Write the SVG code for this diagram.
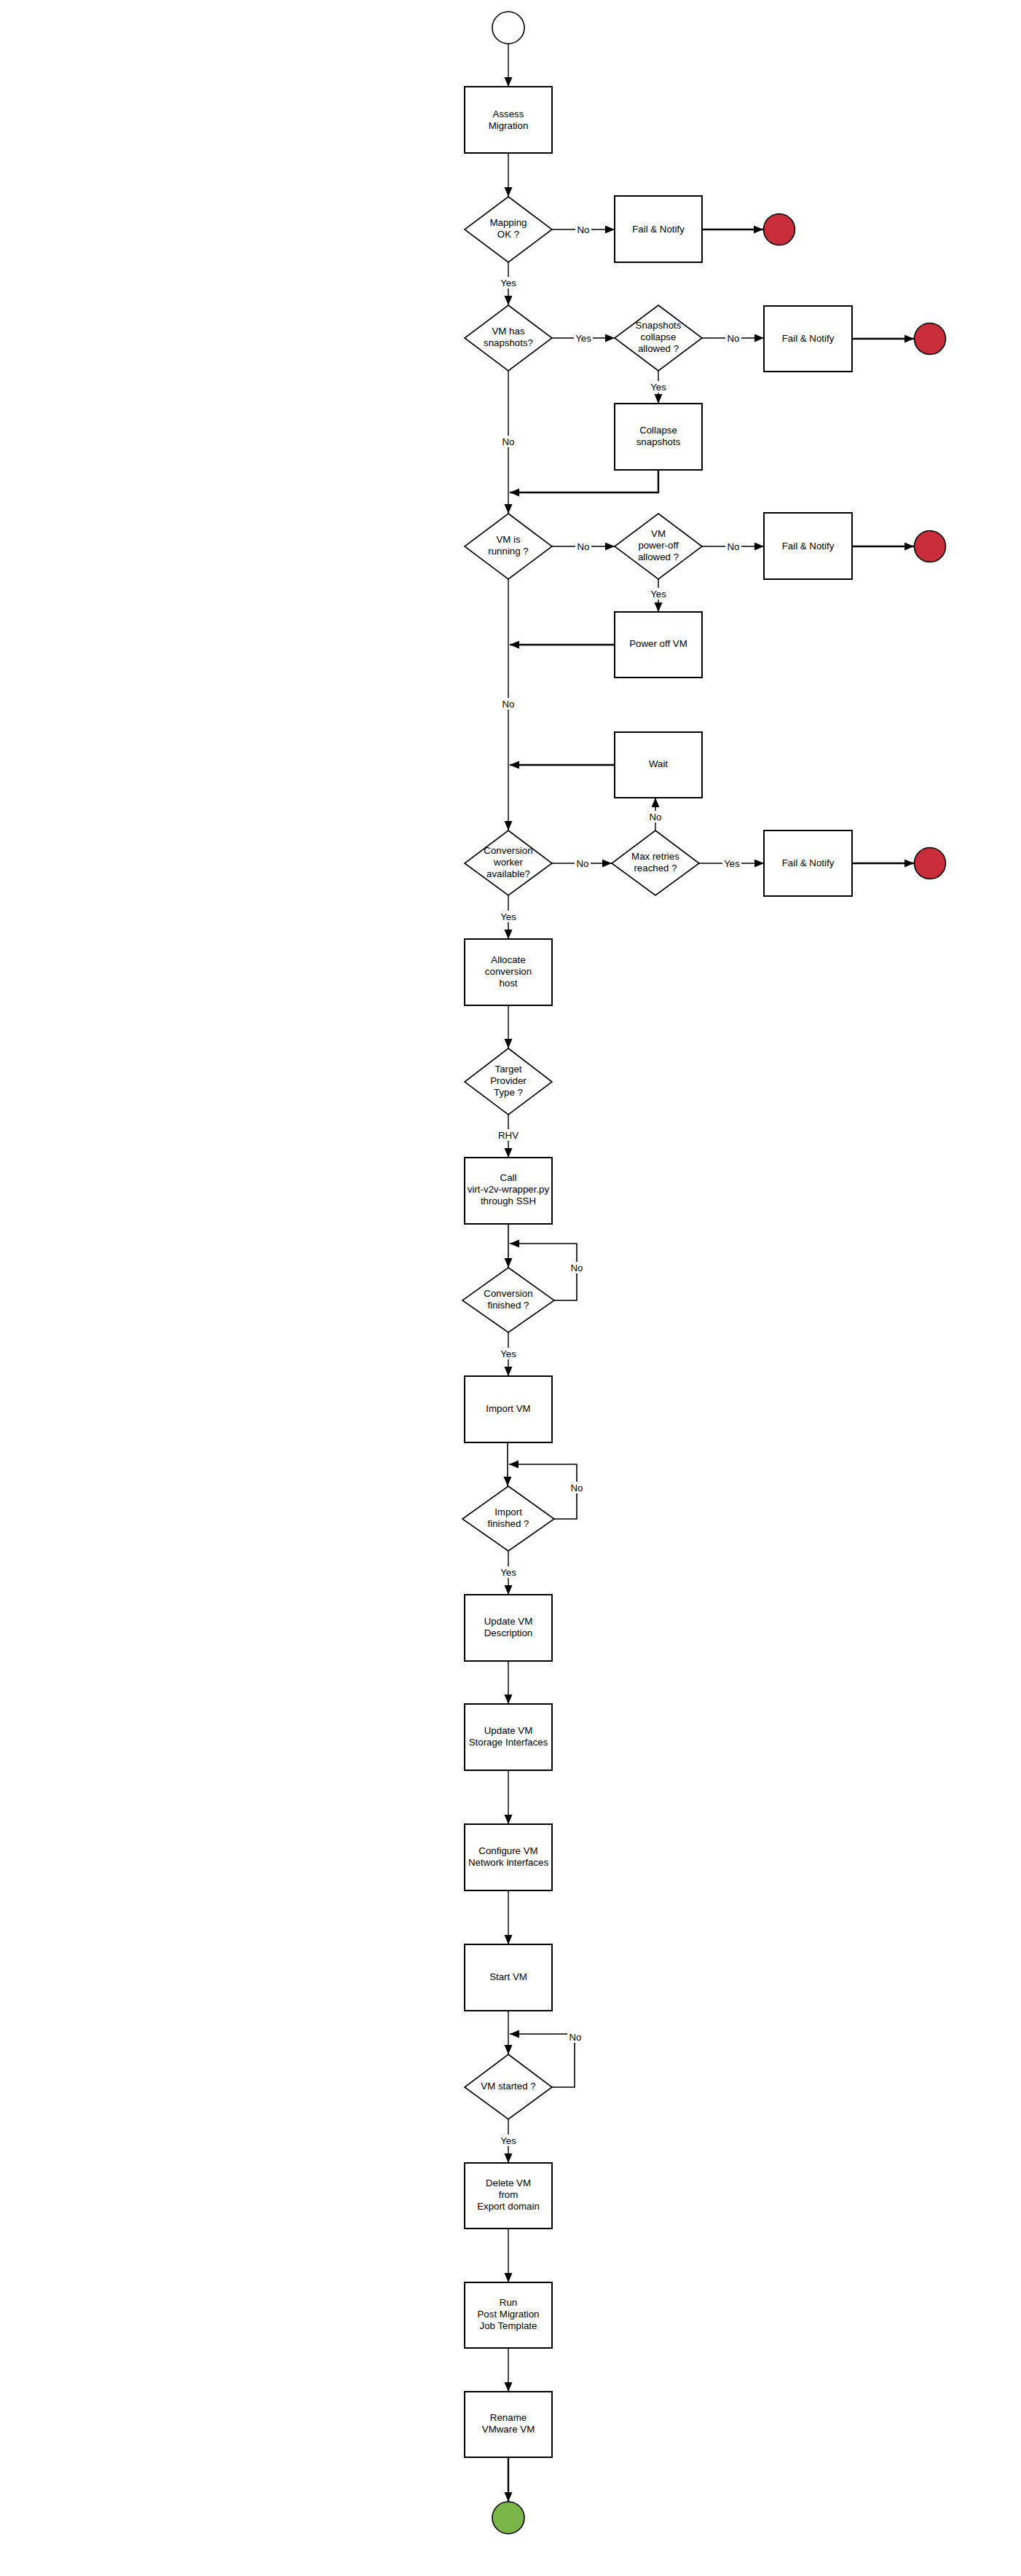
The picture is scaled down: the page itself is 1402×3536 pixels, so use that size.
<svg xmlns="http://www.w3.org/2000/svg" width="1402" height="3536" viewBox="0 0 1402 3536">
  <style>
    .box { fill: #ffffff; stroke: #000000; stroke-width: 2; }
    .dia { fill: #ffffff; stroke: #000000; stroke-width: 1.6; }
    .start { fill: #ffffff; stroke: #000000; stroke-width: 1.6; }
    .endfail { fill: #c92d39; stroke: #000000; stroke-width: 1.6; }
    .endok { fill: #7ab648; stroke: #000000; stroke-width: 1.6; }
    text { font-family: "Liberation Sans", Arial, sans-serif; font-size: 13.3px; fill: #000000; text-anchor: middle; }
    .edge { fill: none; stroke: #000000; stroke-width: 1.4; marker-end: url(#arrow); }
    .thick { fill: none; stroke: #000000; stroke-width: 2.4; marker-end: url(#arrow); }
    .loop { fill: none; stroke: #000000; stroke-width: 1.6; marker-end: url(#arrow); }
    .lblbg { fill: #ffffff; }
  </style>
  <defs>
    <marker id="arrow" markerUnits="userSpaceOnUse" markerWidth="14" markerHeight="12" refX="13" refY="5.5" orient="auto">
      <path d="M0,0 L13,5.5 L0,11 Z" fill="#000000"/>
    </marker>
  </defs>

  <rect width="1402" height="3536" fill="#ffffff"/>

  <!-- connectors -->
  <g id="connectors">
    <path class="edge" d="M698,60 L698,119"/>
    <path class="edge" d="M698,210 L698,270"/>
    <path class="edge" d="M758,315 L844,315"/>
    <path class="thick" d="M964,315 L1048,315"/>
    <path class="edge" d="M698,360 L698,419"/>
    <path class="edge" d="M758,464 L844,464"/>
    <path class="edge" d="M964,464 L1049,464"/>
    <path class="thick" d="M1170,465 L1255,465"/>
    <path class="edge" d="M904,509 L904,554"/>
    <path class="edge" d="M698,509 L698,705"/>
    <path class="thick" d="M904,645 L904,676 L700,676"/>
    <path class="edge" d="M758,750 L844,750"/>
    <path class="edge" d="M964,750 L1049,750"/>
    <path class="thick" d="M1170,750 L1255,750"/>
    <path class="edge" d="M904,795 L904,840"/>
    <path class="thick" d="M844,885 L700,885"/>
    <path class="edge" d="M698,795 L698,1140"/>
    <path class="thick" d="M844,1050 L700,1050"/>
    <path class="edge" d="M758,1185 L840,1185"/>
    <path class="edge" d="M900,1140 L900,1095"/>
    <path class="edge" d="M960,1185 L1049,1185"/>
    <path class="thick" d="M1170,1185 L1255,1185"/>
    <path class="edge" d="M698,1229 L698,1289"/>
    <path class="edge" d="M698,1380 L698,1439"/>
    <path class="edge" d="M698,1530 L698,1589"/>
    <path class="loop" d="M698,1680 L698,1740"/>
    <path class="loop" d="M761,1785 L792,1785 L792,1707 L700,1707"/>
    <path class="edge" d="M698,1829 L698,1889"/>
    <path class="loop" d="M697,1980 L697,2040"/>
    <path class="loop" d="M761,2085 L792,2085 L792,2010 L699,2010"/>
    <path class="edge" d="M698,2129 L698,2189"/>
    <path class="edge" d="M698,2280 L698,2339"/>
    <path class="edge" d="M698,2430 L698,2504"/>
    <path class="edge" d="M698,2595 L698,2669"/>
    <path class="edge" d="M698,2760 L698,2820"/>
    <path class="loop" d="M758,2865 L789,2865 L789,2792 L700,2792"/>
    <path class="edge" d="M698,2909 L698,2969"/>
    <path class="edge" d="M698,3059 L698,3133"/>
    <path class="edge" d="M698,3223 L698,3283"/>
    <path class="thick" d="M698,3373 L698,3434"/>

    <!-- connector labels -->
    <g id="labels">
      <rect class="lblbg" x="790" y="307" width="22" height="16"/><text x="801" y="320">No</text>
      <rect class="lblbg" x="686" y="380" width="24" height="16"/><text x="698" y="393">Yes</text>
      <rect class="lblbg" x="788" y="456" width="26" height="16"/><text x="801" y="469">Yes</text>
      <rect class="lblbg" x="996" y="456" width="22" height="16"/><text x="1007" y="469">No</text>
      <rect class="lblbg" x="892" y="523" width="24" height="16"/><text x="904" y="536">Yes</text>
      <rect class="lblbg" x="687" y="598" width="22" height="16"/><text x="698" y="611">No</text>
      <rect class="lblbg" x="790" y="742" width="22" height="16"/><text x="801" y="755">No</text>
      <rect class="lblbg" x="996" y="742" width="22" height="16"/><text x="1007" y="755">No</text>
      <rect class="lblbg" x="892" y="807" width="24" height="16"/><text x="904" y="820">Yes</text>
      <rect class="lblbg" x="687" y="958" width="22" height="16"/><text x="698" y="971">No</text>
      <rect class="lblbg" x="789" y="1177" width="22" height="16"/><text x="800" y="1190">No</text>
      <rect class="lblbg" x="889" y="1113" width="22" height="16"/><text x="900" y="1126">No</text>
      <rect class="lblbg" x="992" y="1177" width="26" height="16"/><text x="1005" y="1190">Yes</text>
      <rect class="lblbg" x="686" y="1250" width="24" height="16"/><text x="698" y="1263">Yes</text>
      <rect class="lblbg" x="685" y="1550" width="26" height="16"/><text x="698" y="1563">RHV</text>
      <rect class="lblbg" x="781" y="1732" width="22" height="16"/><text x="792" y="1745">No</text>
      <rect class="lblbg" x="686" y="1850" width="24" height="16"/><text x="698" y="1863">Yes</text>
      <rect class="lblbg" x="781" y="2034" width="22" height="16"/><text x="792" y="2047">No</text>
      <rect class="lblbg" x="686" y="2150" width="24" height="16"/><text x="698" y="2163">Yes</text>
      <rect class="lblbg" x="779" y="2788" width="22" height="16"/><text x="790" y="2801">No</text>
      <rect class="lblbg" x="686" y="2930" width="24" height="16"/><text x="698" y="2943">Yes</text>
    </g>
  </g>

  <!-- nodes -->
  <g id="start"><circle class="start" cx="698" cy="38" r="22"/></g>

  <g id="assess">
    <rect class="box" x="638" y="119" width="120" height="91"/>
    <text x="698" y="161">Assess</text>
    <text x="698" y="177">Migration</text>
  </g>

  <g id="mapping-ok">
    <polygon class="dia" points="698,270 758,315 698,360 638,315"/>
    <text x="698" y="310">Mapping</text>
    <text x="698" y="326">OK ?</text>
  </g>

  <g id="fail-mapping">
    <rect class="box" x="844" y="269" width="120" height="91"/>
    <text x="904" y="319">Fail &amp; Notify</text>
  </g>
  <g id="end-mapping"><circle class="endfail" cx="1070" cy="315" r="21.5"/></g>

  <g id="has-snapshots">
    <polygon class="dia" points="698,419 758,464 698,509 638,464"/>
    <text x="698" y="459">VM has</text>
    <text x="698" y="475">snapshots?</text>
  </g>

  <g id="collapse-allowed">
    <polygon class="dia" points="904,419 964,464 904,509 844,464"/>
    <text x="904" y="451">Snapshots</text>
    <text x="904" y="467">collapse</text>
    <text x="904" y="483">allowed ?</text>
  </g>

  <g id="fail-snapshots">
    <rect class="box" x="1049" y="420" width="121" height="90"/>
    <text x="1109.5" y="469">Fail &amp; Notify</text>
  </g>
  <g id="end-snapshots"><circle class="endfail" cx="1277" cy="465" r="21.5"/></g>

  <g id="collapse">
    <rect class="box" x="844" y="554" width="120" height="91"/>
    <text x="904" y="595">Collapse</text>
    <text x="904" y="611">snapshots</text>
  </g>

  <g id="vm-running">
    <polygon class="dia" points="698,705 758,750 698,795 638,750"/>
    <text x="698" y="745">VM is</text>
    <text x="698" y="761">running ?</text>
  </g>

  <g id="poweroff-allowed">
    <polygon class="dia" points="904,705 964,750 904,795 844,750"/>
    <text x="904" y="737">VM</text>
    <text x="904" y="753">power-off</text>
    <text x="904" y="769">allowed ?</text>
  </g>

  <g id="fail-poweroff">
    <rect class="box" x="1049" y="704" width="121" height="91"/>
    <text x="1109.5" y="754">Fail &amp; Notify</text>
  </g>
  <g id="end-poweroff"><circle class="endfail" cx="1277" cy="750" r="21.5"/></g>

  <g id="poweroff">
    <rect class="box" x="844" y="840" width="120" height="90"/>
    <text x="904" y="888">Power off VM</text>
  </g>

  <g id="wait">
    <rect class="box" x="844" y="1005" width="120" height="90"/>
    <text x="904" y="1053">Wait</text>
  </g>

  <g id="worker-available">
    <polygon class="dia" points="698,1140 758,1185 698,1229 638,1185"/>
    <text x="698" y="1172">Conversion</text>
    <text x="698" y="1188">worker</text>
    <text x="698" y="1204">available?</text>
  </g>

  <g id="max-retries">
    <polygon class="dia" points="900,1140 960,1185 900,1229 840,1185"/>
    <text x="900" y="1180">Max retries</text>
    <text x="900" y="1196">reached ?</text>
  </g>

  <g id="fail-retries">
    <rect class="box" x="1049" y="1140" width="121" height="90"/>
    <text x="1109.5" y="1189">Fail &amp; Notify</text>
  </g>
  <g id="end-retries"><circle class="endfail" cx="1277" cy="1185" r="21.5"/></g>

  <g id="allocate">
    <rect class="box" x="638" y="1289" width="120" height="91"/>
    <text x="698" y="1322">Allocate</text>
    <text x="698" y="1338">conversion</text>
    <text x="698" y="1354">host</text>
  </g>

  <g id="provider-type">
    <polygon class="dia" points="698,1439 758,1485 698,1530 638,1485"/>
    <text x="698" y="1472">Target</text>
    <text x="698" y="1488">Provider</text>
    <text x="698" y="1504">Type ?</text>
  </g>

  <g id="call-wrapper">
    <rect class="box" x="638" y="1589" width="120" height="91"/>
    <text x="698" y="1621">Call</text>
    <text x="698" y="1637">virt-v2v-wrapper.py</text>
    <text x="698" y="1653">through SSH</text>
  </g>

  <g id="conversion-finished">
    <polygon class="dia" points="698,1740 761,1785 698,1829 635,1785"/>
    <text x="698" y="1780">Conversion</text>
    <text x="698" y="1796">finished ?</text>
  </g>

  <g id="import-vm">
    <rect class="box" x="638" y="1889" width="120" height="91"/>
    <text x="698" y="1938">Import VM</text>
  </g>

  <g id="import-finished">
    <polygon class="dia" points="698,2040 761,2085 698,2129 635,2085"/>
    <text x="698" y="2080">Import</text>
    <text x="698" y="2096">finished ?</text>
  </g>

  <g id="update-description">
    <rect class="box" x="638" y="2189" width="120" height="91"/>
    <text x="698" y="2230">Update VM</text>
    <text x="698" y="2246">Description</text>
  </g>

  <g id="update-storage">
    <rect class="box" x="638" y="2339" width="120" height="91"/>
    <text x="698" y="2380">Update VM</text>
    <text x="698" y="2396">Storage Interfaces</text>
  </g>

  <g id="configure-network">
    <rect class="box" x="638" y="2504" width="120" height="91"/>
    <text x="698" y="2545">Configure VM</text>
    <text x="698" y="2561">Network interfaces</text>
  </g>

  <g id="start-vm">
    <rect class="box" x="638" y="2669" width="120" height="91"/>
    <text x="698" y="2718">Start VM</text>
  </g>

  <g id="vm-started">
    <polygon class="dia" points="698,2820 758,2865 698,2909 638,2865"/>
    <text x="698" y="2868">VM started ?</text>
  </g>

  <g id="delete-vm">
    <rect class="box" x="638" y="2969" width="120" height="90"/>
    <text x="698" y="3001">Delete VM</text>
    <text x="698" y="3017">from</text>
    <text x="698" y="3033">Export domain</text>
  </g>

  <g id="post-migration">
    <rect class="box" x="638" y="3133" width="120" height="90"/>
    <text x="698" y="3165">Run</text>
    <text x="698" y="3181">Post Migration</text>
    <text x="698" y="3197">Job Template</text>
  </g>

  <g id="rename-vm">
    <rect class="box" x="638" y="3283" width="120" height="90"/>
    <text x="698" y="3323">Rename</text>
    <text x="698" y="3339">VMware VM</text>
  </g>

  <g id="end"><circle class="endok" cx="698" cy="3456" r="22"/></g>
</svg>
